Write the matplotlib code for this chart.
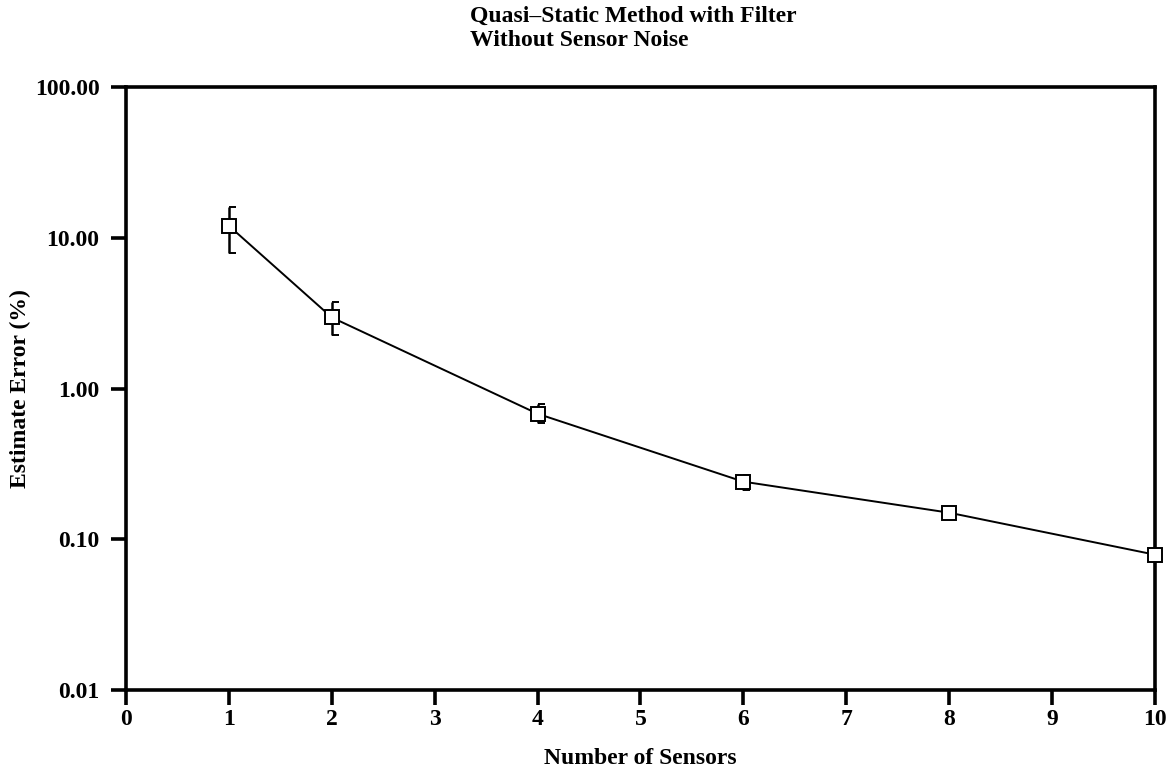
import matplotlib
matplotlib.use("Agg")
import matplotlib.pyplot as plt
from matplotlib.path import Path
import numpy as np

sensors = [1, 2, 4, 6, 8, 10]
error_pct = [12.0, 2.96, 0.68, 0.241, 0.150, 0.079]
err_low = [7.95, 2.25, 0.594, 0.212, 0.147, 0.077]
err_high = [16.1, 3.72, 0.795, 0.268, 0.153, 0.081]
xticks = list(range(0, 11))
yticks = [0.01, 0.1, 1, 10, 100]
ytick_labels = ["0.01", "0.10", "1.00", "10.00", "100.00"]

plt.rcParams['font.family'] = ['Liberation Serif', 'DejaVu Serif']
plt.rcParams['font.weight'] = 'bold'

fig = plt.figure(figsize=(11.71, 7.70), dpi=100)
ax = fig.add_axes([0.1076, 0.1039, 0.8787, 0.7831])

y = np.array(error_pct)
lo = y - np.array(err_low)
hi = np.array(err_high) - y
line, caps, bars = ax.errorbar(sensors, y, yerr=[lo, hi], color='black', lw=1.4,
                               elinewidth=1.8, capsize=5, capthick=2.4,
                               marker='s', markersize=10, markerfacecolor='white',
                               markeredgecolor='black', markeredgewidth=1.4,
                               clip_on=False, zorder=3)
half = Path([(0, 0), (1, 0)], [Path.MOVETO, Path.LINETO])
for c in caps:
    c.set_marker(half)
    c.set_markersize(10)
    c.set_clip_on(False)
for b in bars:
    b.set_clip_on(False)
line.set_zorder(4)

ax.set_yscale('log')
ax.set_xlim(0, 10)
ax.set_ylim(0.01, 100)
ax.set_xticks(xticks)
ax.set_xticklabels([str(t) for t in xticks])
ax.set_yticks(yticks)
ax.set_yticklabels(ytick_labels)
ax.yaxis.set_minor_locator(matplotlib.ticker.NullLocator())
for s in ax.spines.values():
    s.set_linewidth(2.6)
ax.tick_params(axis='both', which='major', direction='out', length=11, width=2.6,
               labelsize=17)
ax.tick_params(axis='x', pad=3)
ax.tick_params(axis='y', pad=8)
for lab in ax.get_xticklabels() + ax.get_yticklabels():
    lab.set_fontweight('bold')

ax.set_xlabel("Number of Sensors", fontsize=17, fontweight='bold', labelpad=13)
ax.set_ylabel("Estimate Error (%)", fontsize=17, fontweight='bold', labelpad=3)

fig.text(0.5405, 0.993, "Quasi\u2013Static Method with Filter\nWithout Sensor Noise",
         ha='center', va='top', multialignment='left', fontsize=17,
         fontweight='bold', linespacing=1.2)

fig.savefig("out.png", dpi=100, facecolor='white')
